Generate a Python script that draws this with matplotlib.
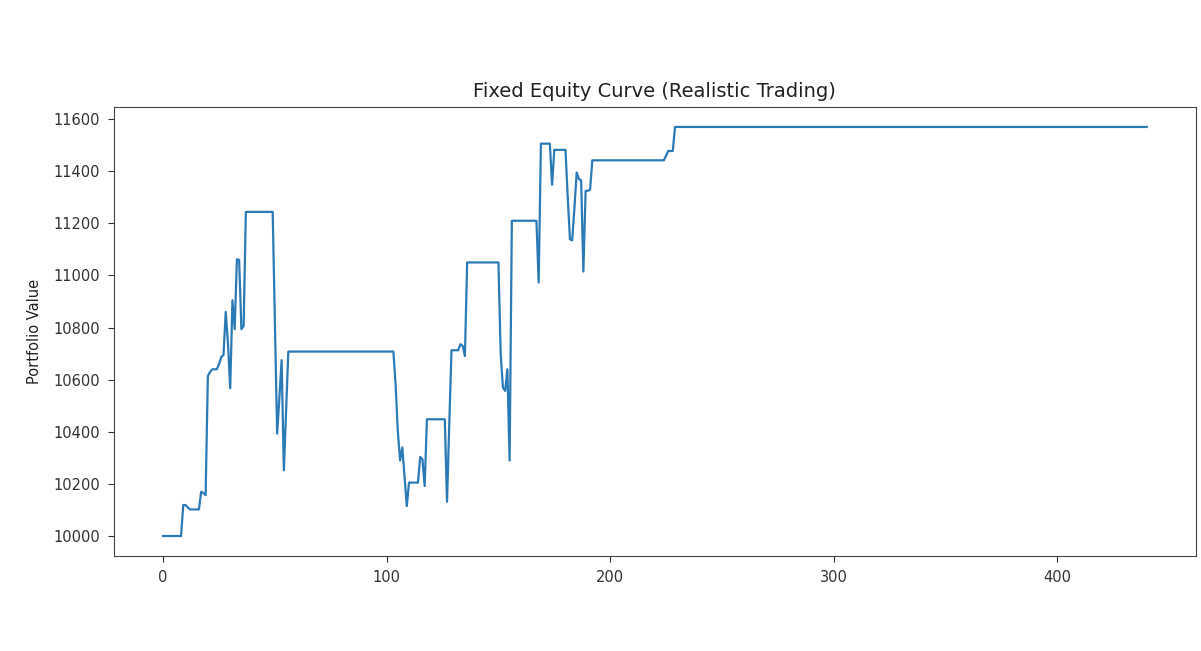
import numpy as np
import matplotlib
matplotlib.use('Agg')
import matplotlib.pyplot as plt

# 净值曲线：按 (数值, 持续步数) 记录的阶梯数据
step_values = [
    10000, 10119, 10110, 10102, 10170, 10165, 10157, 10614, 10630, 10640,
    10660, 10687, 10695, 10860, 10740, 10567, 10905, 10794, 11062, 11060,
    10794, 10806, 11244, 10820, 10393, 10530, 10675, 10252, 10480, 10708,
    10580, 10400, 10290, 10340, 10230, 10115, 10205, 10303, 10295, 10192,
    10448, 10132, 10430, 10713, 10736, 10730, 10691, 11050, 10700, 10570,
    10557, 10640, 10290, 11210, 10973, 11506, 11348, 11482, 11300, 11139,
    11135, 11260, 11395, 11370, 11365, 11015, 11325, 11330, 11442, 11460,
    11478, 11570,
]
step_lengths = [
    9, 2, 1, 5, 1, 1, 1, 1, 1, 3,
    1, 1, 1, 1, 1, 1, 1, 1, 1, 1,
    1, 1, 13, 1, 1, 1, 1, 1, 1, 48,
    1, 1, 1, 1, 1, 1, 5, 1, 1, 1,
    9, 1, 1, 4, 1, 1, 1, 15, 1, 1,
    1, 1, 1, 12, 1, 5, 1, 6, 1, 1,
    1, 1, 1, 1, 1, 1, 2, 1, 33, 1,
    3, 212,
]

portfolio = np.repeat(step_values, step_lengths)

fig = plt.figure(figsize=(12.01, 6.51), dpi=100)
ax = fig.add_axes([0.0949, 0.1452, 0.9008, 0.6912])

ax.plot(np.arange(len(portfolio)), portfolio, color='#2a7ab5', linewidth=1.6)

ax.set_title('Fixed Equity Curve (Realistic Trading)', fontsize=14, color='#222222', pad=7)
ax.set_ylabel('Portfolio Value', fontsize=10.5, color='#222222', labelpad=8)
ax.tick_params(labelsize=10.5, length=4, pad=6, colors='#333333')
for sp in ax.spines.values():
    sp.set_color('#444444')
ax.set_xticks([0, 100, 200, 300, 400])
ax.set_yticks(np.arange(10000, 11601, 200))

fig.savefig('out.png', dpi=100)
